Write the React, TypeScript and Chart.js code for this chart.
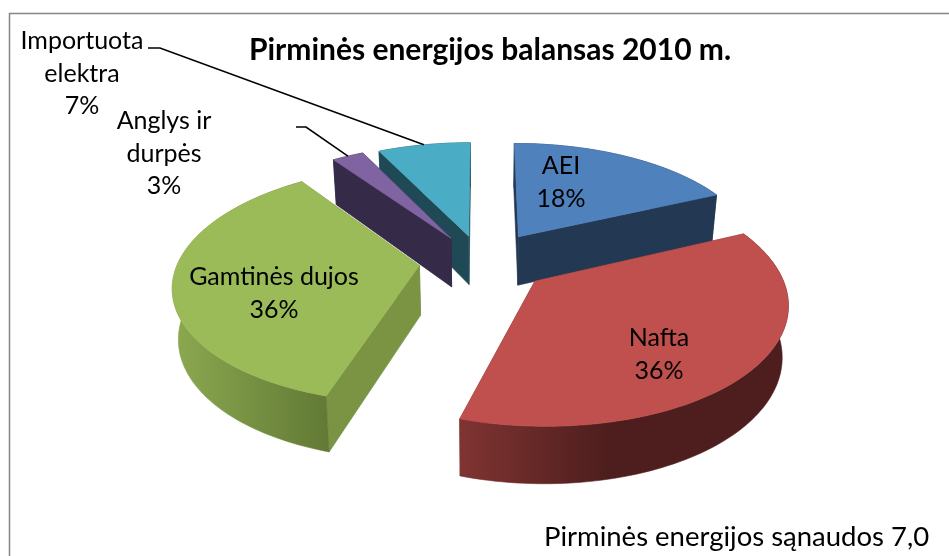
import React, { useEffect, useRef } from "react";
import { Chart, registerables } from "chart.js";

Chart.register(...registerables);

const categories = ["AEI", "Nafta", "Gamtinės dujos", "Anglys ir durpės", "Importuota elektra"];
const shares = [18.2, 36.49, 35.5, 2.51, 7.3];
const titleText = "Pirminės energijos balansas 2010 m.";
const footerText = "Pirminės energijos sąnaudos 7,0";

const topColors = ["#4F81BD", "#C0504D", "#9BBB59", "#8064A2", "#4BACC6"];
const cutColors = ["#233852", "#7a3230", "#7A9444", "#352A47", "#1F4A55"];
const wallStops = [
  ["#233852", "#233852"],
  ["#7f3432", "#4d1e1d"],
  ["#8CA950", "#627A35"],
  ["#352A47", "#352A47"],
  ["#1F4A55", "#1F4A55"],
];
const explode = [60, 72, 60, 52, 51];
// small per-slice screen shift so the exploded slices sit as in the picture
const sliceShift = [[7, 1], [-1, -1], [-1, 2], [-3, 0], [0, 0]];

// label layout: centre x, first-line centre y, line breaks
const labelLayout = [
  { x: 561, y: 166, lines: ["AEI"] },
  { x: 659, y: 338, lines: ["Nafta"] },
  { x: 274, y: 277, lines: ["Gamtinės dujos"] },
  { x: 164, y: 121, lines: ["Anglys ir", "durpės"], leader: [[296, 127], [306, 127]] },
  { x: 82, y: 41, lines: ["Importuota", "elektra"], leader: [[148, 48], [160, 48]] },
];

const FONT = "Lato, Carlito, 'Open Sans', sans-serif";
const TILT = 0.475;
const PERSP = 1551;
const DEPTH = 49.5;
const SHRINK = 0.98;

function project(cx: number, cy: number, X: number, Y: number, bottom: boolean) {
  const s = 1 / (1 - Y / PERSP);
  const k = bottom ? SHRINK : 1;
  return {
    x: cx + X * s * k,
    y: cy + Y * TILT * s * k + (bottom ? DEPTH * s : 0),
  };
}

function fillPoly(ctx: CanvasRenderingContext2D, pts: { x: number; y: number }[], fill: any) {
  ctx.beginPath();
  pts.forEach((p, i) => (i ? ctx.lineTo(p.x, p.y) : ctx.moveTo(p.x, p.y)));
  ctx.closePath();
  ctx.fillStyle = fill;
  ctx.fill();
  ctx.strokeStyle = fill;
  ctx.lineWidth = 0.6;
  ctx.stroke();
}

function arcGeometry(arc: any) {
  const { x: cx, y: cy, startAngle, endAngle, outerRadius } = arc;
  const off = arc.options.offset || 0;
  const mid = (startAngle + endAngle) / 2;
  const ox = Math.cos(mid) * off;
  const oy = Math.sin(mid) * off;
  const at = (a: number, r: number) => ({ X: ox + Math.cos(a) * r, Y: oy + Math.sin(a) * r });
  return { cx, cy, startAngle, endAngle, outerRadius, mid, ox, oy, at };
}

const pie3d = {
  id: "pie3d",
  beforeDatasetsDraw(chart: any) {
    const ctx: CanvasRenderingContext2D = chart.ctx;
    const arcs = chart.getDatasetMeta(0).data;

    ctx.save();
    ctx.fillStyle = "#ffffff";
    ctx.fillRect(0, 0, chart.width, chart.height);
    ctx.strokeStyle = "#868686";
    ctx.lineWidth = 1.5;
    ctx.beginPath();
    ctx.moveTo(9.5, chart.height);
    ctx.lineTo(9.5, 13.5);
    ctx.lineTo(chart.width, 13.5);
    ctx.stroke();

    const order = arcs
      .map((a: any, i: number) => i)
      .sort((p: number, q: number) => arcGeometry(arcs[p]).oy - arcGeometry(arcs[q]).oy);

    order.forEach((i: number) => {
      const g = arcGeometry(arcs[i]);
      const cx = g.cx + sliceShift[i][0];
      const cy = g.cy + sliceShift[i][1];
      const steps = Math.max(4, Math.ceil((g.endAngle - g.startAngle) / 0.025));
      const top: { x: number; y: number }[] = [];
      const bot: { x: number; y: number }[] = [];
      for (let k = 0; k <= steps; k++) {
        const a = g.startAngle + ((g.endAngle - g.startAngle) * k) / steps;
        const p = g.at(a, g.outerRadius);
        top.push(project(cx, cy, p.X, p.Y, false));
        bot.push(project(cx, cy, p.X, p.Y, true));
      }
      const tipT = project(cx, cy, g.ox, g.oy, false);
      const tipB = project(cx, cy, g.ox, g.oy, true);

      // cut faces, far one first
      const cuts = [
        [tipT, top[0], bot[0], tipB],
        [tipT, top[steps], bot[steps], tipB],
      ].sort((a, b) => a[1].y - b[1].y);
      cuts.forEach((c) => fillPoly(ctx, c, cutColors[i]));

      // outer wall
      const xs = top.map((p) => p.x);
      const grad = ctx.createLinearGradient(Math.max(...xs), 0, Math.min(...xs), 0);
      const stops = wallStops[i];
      if (i === 1) {
        grad.addColorStop(0, stops[1]);
        grad.addColorStop(0.55, stops[1]);
        grad.addColorStop(1, stops[0]);
      } else {
        grad.addColorStop(0, stops[1]);
        grad.addColorStop(1, stops[0]);
      }
      fillPoly(ctx, [...top, ...bot.slice().reverse()], grad);

      // top face
      fillPoly(ctx, [tipT, ...top], arcs[i].options.backgroundColor);
    });
    ctx.restore();
    return false;
  },
  afterDraw(chart: any) {
    const ctx: CanvasRenderingContext2D = chart.ctx;
    const arcs = chart.getDatasetMeta(0).data;
    ctx.save();
    ctx.fillStyle = "#000000";
    ctx.textBaseline = "middle";
    ctx.textAlign = "center";

    ctx.font = `bold 30px ${FONT}`;
    ctx.fillText(titleText, 490, 50);

    ctx.font = `25px ${FONT}`;
    labelLayout.forEach((l, i) => {
      const rows = [...l.lines, `${Math.round(shares[i])}%`];
      rows.forEach((t, r) => ctx.fillText(t, l.x, l.y + r * 32.5));
      if (l.leader) {
        const g = arcGeometry(arcs[i]);
        const end = g.at(g.mid, g.outerRadius);
        const p = project(g.cx + sliceShift[i][0], g.cy + sliceShift[i][1], end.X, end.Y, false);
        ctx.beginPath();
        ctx.moveTo(l.leader[0][0], l.leader[0][1]);
        ctx.lineTo(l.leader[1][0], l.leader[1][1]);
        ctx.lineTo(p.x, p.y);
        ctx.strokeStyle = "#000000";
        ctx.lineWidth = 1.6;
        ctx.stroke();
      }
    });

    ctx.textAlign = "left";
    ctx.font = `27.5px ${FONT}`;
    ctx.fillText(footerText, 544, 537);
    ctx.restore();
  },
};

export default function App() {
  const ref = useRef<HTMLCanvasElement>(null);
  useEffect(() => {
    document.body.style.margin = "0";
    const chart = new Chart(ref.current as HTMLCanvasElement, {
      type: "pie",
      data: {
        labels: categories,
        datasets: [
          {
            data: shares,
            backgroundColor: topColors,
            offset: explode,
            borderWidth: 0,
            radius: 241,
          } as any,
        ],
      },
      options: {
        responsive: false,
        animation: false,
        layout: { padding: { left: 11, right: 0, top: 0, bottom: 38 } },
        plugins: { legend: { display: false }, tooltip: { enabled: false }, title: { display: false } },
      },
      plugins: [pie3d as any],
    });
    return () => chart.destroy();
  }, []);
  return <canvas ref={ref} width={949} height={556} style={{ display: "block" }} />;
}
